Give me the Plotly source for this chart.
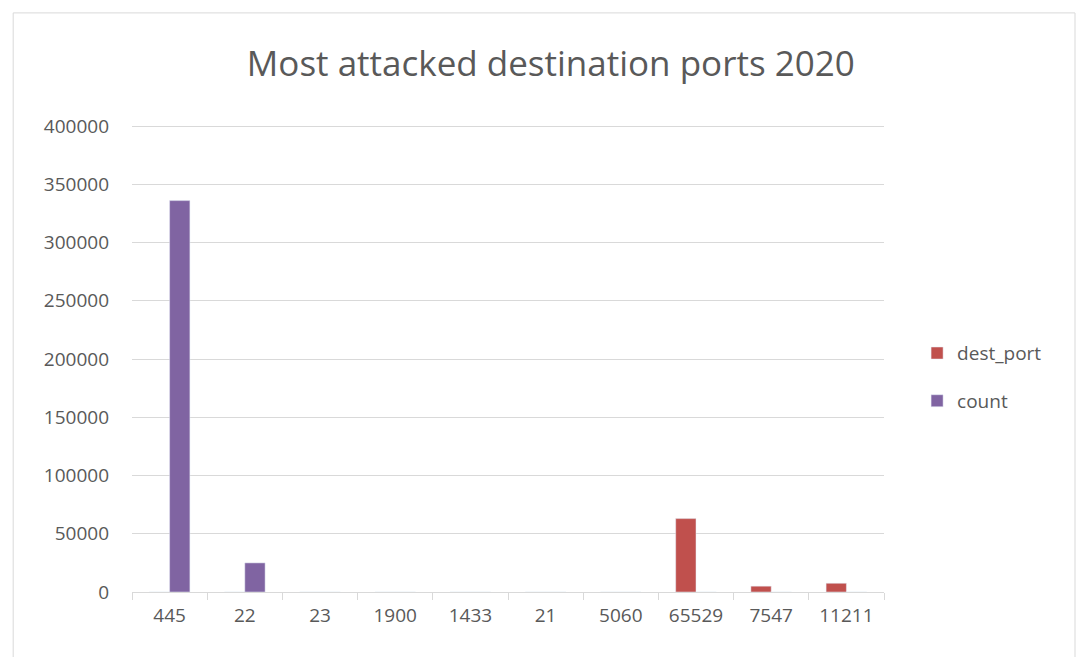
import plotly.graph_objects as go

ports = ["445", "22", "23", "1900", "1433", "21", "5060", "65529", "7547", "11211"]
dest_port = [0, 0, 0, 0, 0, 0, 0, 63000, 5000, 7500]
count = [336000, 25000, 0, 0, 0, 0, 0, 0, 0, 0]
y_ticks = [0, 50000, 100000, 150000, 200000, 250000, 300000, 350000, 400000]

TEXT = "#595959"
fig = go.Figure()
fig.add_trace(go.Bar(x=ports, y=dest_port, name="dest_port", marker_color="#C0504D",
                     legendgroup="a"))
fig.add_trace(go.Bar(x=ports, y=count, name="count", marker_color="#8064A2",
                     legendgroup="b"))

fig.update_layout(
    width=1080, height=657,
    paper_bgcolor="white", plot_bgcolor="white",
    margin=dict(l=132, r=196, t=125, b=65),
    barmode="group", bargap=0.46, bargroupgap=0,
    font=dict(family="Open Sans", color=TEXT, size=18),
    title=dict(text="Most attacked destination ports 2020", x=0.51, xanchor="center",
               y=0.903, yanchor="middle", font=dict(size=35, color=TEXT, family="Open Sans")),
    showlegend=True,
    legend=dict(x=1.044, y=0.46, xanchor="left", yanchor="middle",
                font=dict(size=19, color=TEXT), tracegroupgap=20, itemwidth=30,
                traceorder="grouped"),
    xaxis=dict(type="category", showline=True, linecolor="#D9D9D9", linewidth=1,
               ticks="outside", tickson="boundaries", ticklen=7, tickcolor="#D9D9D9",
               tickfont=dict(size=19, color=TEXT), showgrid=False, ticklabelstandoff=6),
    yaxis=dict(range=[0, 400900], tickvals=y_ticks, ticktext=[str(v) for v in y_ticks],
               showgrid=True, gridcolor="#D9D9D9", gridwidth=1, zeroline=False,
               ticks="", tickfont=dict(size=19, color=TEXT), ticklabelstandoff=22),
    shapes=[dict(type="rect", xref="paper", yref="paper", x0=-0.158, x1=1.254,
                 y0=-0.2, y1=1.24, line=dict(color="#D9D9D9", width=1))],
)
fig.write_html("out.html")
